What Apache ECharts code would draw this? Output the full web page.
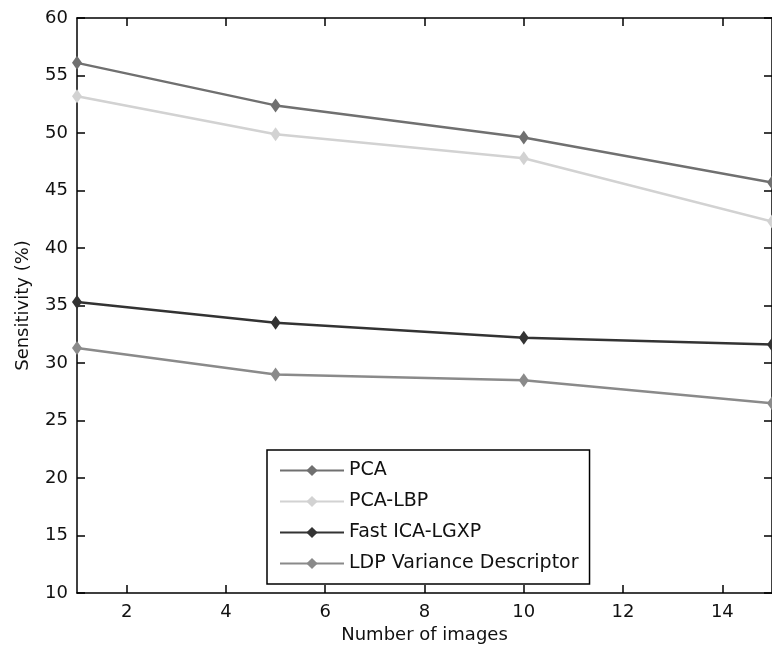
<!DOCTYPE html>
<html>
<head>
<meta charset="utf-8">
<script src="https://cdn.jsdelivr.net/npm/echarts@6/dist/echarts.min.js"></script>
<style>
  html, body { margin: 0; padding: 0; background: #fff; }
  #chart { width: 772px; height: 652px; }
</style>
</head>
<body>
<div id="chart"></div>
<script>
// data
const xs = [1, 5, 10, 15];
const pca     = [56.1, 52.4, 49.6, 45.7];
const pcaLbp  = [53.2, 49.9, 47.8, 42.3];
const fastIca = [35.3, 33.5, 32.2, 31.6];
const ldp     = [31.3, 29.0, 28.5, 26.5];
const xTicks = [2, 4, 6, 8, 10, 12, 14];
const yTicks = [10, 15, 20, 25, 30, 35, 40, 45, 50, 55, 60];

const names  = ["PCA", "PCA-LBP", "Fast ICA-LGXP", "LDP Variance Descriptor"];
const values = [pca, pcaLbp, fastIca, ldp];
const colors = ["#707070", "#d2d2d2", "#333333", "#8a8a8a"];

const FONT = "DejaVu Sans";

const chart = echarts.init(document.getElementById("chart"), null, { renderer: "canvas" });

const axisCommon = {
  axisLine: { show: true, onZero: false, lineStyle: { color: "#000", width: 1.5 } },
  splitLine: { show: false }
};
const tickStyle = { color: "#000", width: 1.5 };

chart.setOption({
  animation: false,
  backgroundColor: "#fff",
  grid: { left: 77, top: 18, right: -1, bottom: 59, containLabel: false },

  legend: {
    orient: "vertical",
    left: 267,
    top: 450,
    data: names,
    backgroundColor: "#fff",
    borderColor: "#000",
    borderWidth: 1.5,
    borderRadius: 0,
    padding: [11, 11, 11, 12],
    itemWidth: 64,
    itemHeight: 14,
    itemGap: 12,
    textStyle: { fontFamily: FONT, fontSize: 19, color: "#111" }
  },

  xAxis: [
    Object.assign({}, axisCommon, {
      type: "value",
      min: 1,
      max: 15,
      name: "Number of images",
      nameLocation: "middle",
      nameGap: 32,
      nameTextStyle: { fontFamily: FONT, fontSize: 18, color: "#111" },
      axisTick: { show: true, inside: true, length: 8, customValues: xTicks, lineStyle: tickStyle },
      axisLabel: { show: true, customValues: xTicks, margin: 10, fontFamily: FONT, fontSize: 18, color: "#111" }
    }),
    Object.assign({}, axisCommon, {
      type: "value",
      position: "top",
      min: 1,
      max: 15,
      axisTick: { show: true, inside: true, length: 8, customValues: xTicks, lineStyle: tickStyle },
      axisLabel: { show: false }
    })
  ],

  yAxis: [
    Object.assign({}, axisCommon, {
      type: "value",
      min: 10,
      max: 60,
      interval: 5,
      name: "Sensitivity (%)",
      nameLocation: "middle",
      nameGap: 45,
      nameTextStyle: { fontFamily: FONT, fontSize: 18, color: "#111" },
      axisTick: { show: true, inside: true, length: 8, customValues: yTicks, lineStyle: tickStyle },
      axisLabel: { show: true, customValues: yTicks, margin: 9, fontFamily: FONT, fontSize: 18, color: "#111" }
    }),
    Object.assign({}, axisCommon, {
      type: "value",
      position: "right",
      min: 10,
      max: 60,
      interval: 5,
      axisTick: { show: true, inside: true, length: 8, customValues: yTicks, lineStyle: tickStyle },
      axisLabel: { show: false }
    })
  ],

  series: names.map((n, i) => ({
    name: n,
    type: "line",
    data: xs.map((x, j) => [x, values[i][j]]),
    symbol: "diamond",
    symbolSize: [10, 14],
    lineStyle: { color: colors[i], width: 2.5 },
    itemStyle: { color: colors[i] },
    z: 2
  }))
});
</script>
</body>
</html>
